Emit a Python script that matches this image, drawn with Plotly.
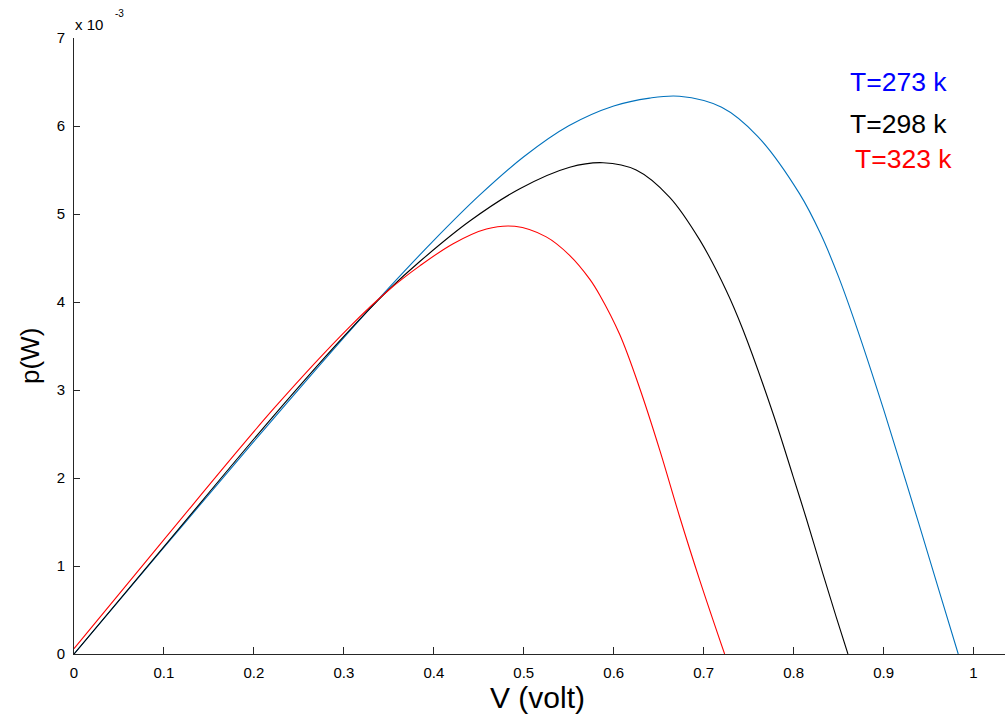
import plotly.graph_objects as go

# Voltage (V) and power (units of 1e-3 W)
v_273 = [0.0, 0.1, 0.2, 0.3, 0.35, 0.4, 0.45, 0.5, 0.55, 0.6, 0.64, 0.673, 0.72,
         0.76, 0.8067, 0.83, 0.85, 0.87, 0.90, 0.925, 0.944, 0.962, 0.983]
p_273 = [0.0, 1.21, 2.415, 3.595, 4.16, 4.70, 5.205, 5.65, 6.002, 6.227, 6.317, 6.338, 6.213,
         5.883, 5.229, 4.775, 4.285, 3.715, 2.78, 1.955, 1.32, 0.708, 0.0]

v_298 = [0.0, 0.1, 0.2222, 0.3, 0.35, 0.3844, 0.44, 0.4956, 0.5511, 0.5881, 0.625, 0.662, 0.6956,
         0.7252, 0.7437, 0.777, 0.7993, 0.8141, 0.8326, 0.8474, 0.8604]
p_298 = [0.0, 1.22, 2.71, 3.61, 4.14, 4.46, 4.92, 5.287, 5.531, 5.583, 5.50, 5.193, 4.706,
         4.129, 3.685, 2.736, 2.022, 1.54, 0.91, 0.42, 0.0]

v_323 = [0.0, 0.1, 0.2222, 0.3067, 0.35, 0.3844, 0.4215, 0.4585, 0.49, 0.525, 0.551, 0.5733,
         0.5844, 0.6067, 0.6289, 0.6511, 0.6733, 0.6956, 0.7233]
p_323 = [0.06, 1.30, 2.79, 3.72, 4.136, 4.41, 4.663, 4.83, 4.86, 4.74, 4.53, 4.26,
         4.08, 3.63, 3.02, 2.32, 1.56, 0.84, 0.0]

x_ticks = [0, 0.1, 0.2, 0.3, 0.4, 0.5, 0.6, 0.7, 0.8, 0.9, 1]
x_tick_text = ["0", "0.1", "0.2", "0.3", "0.4", "0.5", "0.6", "0.7", "0.8", "0.9", "1"]
y_ticks = [0, 1, 2, 3, 4, 5, 6, 7]
y_tick_text = ["0", "1", "2", "3", "4", "5", "6", "7"]

labels = ["T=273 k", "T=298 k", "T=323 k"]

FONT = "Liberation Sans, Arial, sans-serif"
W, H = 1006, 715
L, R, T, B = 74, 1, 38, 61
pw, ph = W - L - R, H - T - B


def px(xp):
    return (xp - L) / pw


def py(yp):
    return (H - B - yp) / ph


line_style = dict(width=1.1, shape="spline", smoothing=1.0)
fig = go.Figure()
fig.add_trace(go.Scatter(x=v_273, y=p_273, mode="lines", name=labels[0],
                         line=dict(color="#0072BD", **line_style)))
fig.add_trace(go.Scatter(x=v_298, y=p_298, mode="lines", name=labels[1],
                         line=dict(color="#000000", **line_style)))
fig.add_trace(go.Scatter(x=v_323, y=p_323, mode="lines", name=labels[2],
                         line=dict(color="#FF0000", **line_style)))

axis_common = dict(showgrid=False, zeroline=False, showline=True, linecolor="#262626",
                   linewidth=1, ticks="inside", tickcolor="#262626", tickwidth=1,
                   tickfont=dict(family=FONT, size=15, color="#000000"))

fig.update_xaxes(range=[0, 1.035], tickvals=x_ticks, ticktext=x_tick_text, ticklen=7,
                 ticklabelstandoff=5, **axis_common)
fig.update_yaxes(range=[0, 7], tickvals=y_ticks, ticktext=y_tick_text, ticklen=6,
                 ticklabelstandoff=5, **axis_common)

ann = []
ann.append(dict(text="V (volt)", x=px(537), y=py(697), xref="paper", yref="paper",
                xanchor="center", yanchor="middle", showarrow=False,
                font=dict(family=FONT, size=30, color="#000000")))
ann.append(dict(text="p(W)", x=px(30), y=py(356), xref="paper", yref="paper",
                xanchor="center", yanchor="middle", showarrow=False, textangle=-90,
                font=dict(family=FONT, size=26, color="#000000")))
ann.append(dict(text="x 10", x=px(89), y=py(24), xref="paper", yref="paper",
                xanchor="center", yanchor="middle", showarrow=False,
                font=dict(family=FONT, size=15, color="#000000")))
ann.append(dict(text="-3", x=px(119), y=py(13), xref="paper", yref="paper",
                xanchor="center", yanchor="middle", showarrow=False,
                font=dict(family=FONT, size=10, color="#000000")))
label_colors = ["#0000FF", "#000000", "#FF0000"]
label_pos = [(898, 82), (898, 124), (903, 159)]
for lab, col, (xx, yy) in zip(labels, label_colors, label_pos):
    ann.append(dict(text=lab, x=px(xx), y=py(yy), xref="paper", yref="paper",
                    xanchor="center", yanchor="middle", showarrow=False,
                    font=dict(family=FONT, size=26.5, color=col)))

fig.update_layout(width=W, height=H, margin=dict(l=L, r=R, t=T, b=B, pad=0),
                  paper_bgcolor="white", plot_bgcolor="white", showlegend=False,
                  annotations=ann)

fig.write_html("out.html")
